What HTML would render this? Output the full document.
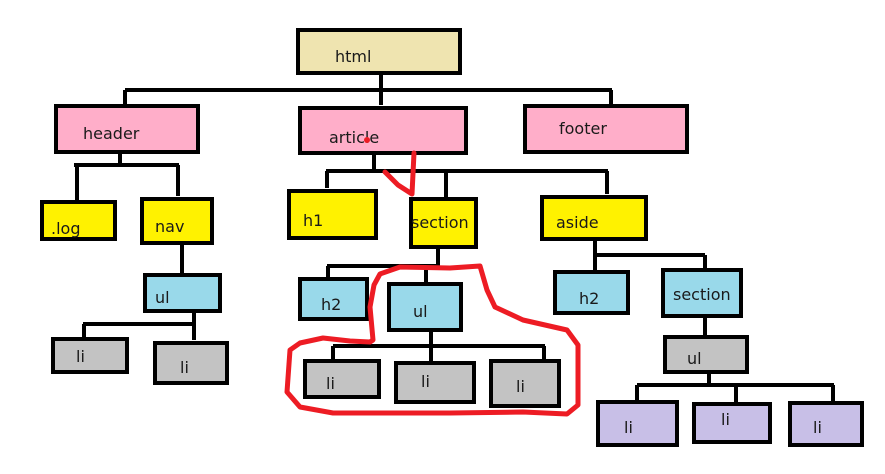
<!DOCTYPE html>
<html><head><meta charset="utf-8"><style>
html,body{margin:0;padding:0;background:#fff;}
svg{display:block;}
text{font-family:"DejaVu Sans","Liberation Sans",sans-serif;font-size:16px;fill:#1a1a1a;}
</style></head><body>
<svg width="885" height="474" viewBox="0 0 885 474" xmlns="http://www.w3.org/2000/svg">
<g stroke="#000" stroke-width="4" fill="none">
<!-- html children -->
<path d="M381 74V105M125 90H612M125 90V105M611 90V104"/>
<!-- header -->
<path d="M120 153V165M74 165H179M77 165V200M178 165V196"/>
<path d="M182 244V274M194 312V340M83 324H194M84 324V337"/>
<!-- article -->
<path d="M374 154V171M326 171H608M327 171V188M446 171V197M607 171V194"/>
<path d="M438 248V266M327 266H438M328 266V277M426 266V282"/>
<path d="M431 331V346M333 346H545M333 346V359M431 346V361M544 346V359"/>
<!-- aside -->
<path d="M595 240V272M595 255H705M705 255V268M705 317V336M709 373V385M637 385H834M637 385V400M736 385V402M833 385V401"/>
</g>
<g stroke="#000" stroke-width="4">
<rect x="298" y="30" width="162" height="43" fill="#efe4b0"/>
<rect x="56" y="106" width="142" height="46" fill="#ffaec9"/>
<rect x="300" y="108" width="166" height="45" fill="#ffaec9"/>
<rect x="525" y="106" width="162" height="46" fill="#ffaec9"/>
<rect x="42" y="202" width="73" height="37" fill="#fff200"/>
<rect x="142" y="199" width="70" height="44" fill="#fff200"/>
<rect x="289" y="191" width="87" height="47" fill="#fff200"/>
<rect x="411" y="199" width="65" height="48" fill="#fff200"/>
<rect x="542" y="197" width="104" height="42" fill="#fff200"/>
<rect x="145" y="275" width="75" height="36" fill="#99d9ea"/>
<rect x="300" y="279" width="67" height="40" fill="#99d9ea"/>
<rect x="389" y="284" width="72" height="46" fill="#99d9ea"/>
<rect x="555" y="272" width="73" height="41" fill="#99d9ea"/>
<rect x="663" y="270" width="78" height="46" fill="#99d9ea"/>
<rect x="53" y="339" width="74" height="33" fill="#c3c3c3"/>
<rect x="155" y="343" width="72" height="40" fill="#c3c3c3"/>
<rect x="305" y="361" width="74" height="36" fill="#c3c3c3"/>
<rect x="396" y="363" width="78" height="39" fill="#c3c3c3"/>
<rect x="491" y="361" width="68" height="45" fill="#c3c3c3"/>
<rect x="665" y="337" width="82" height="35" fill="#c3c3c3"/>
<rect x="598" y="402" width="79" height="43" fill="#c8bfe7"/>
<rect x="694" y="404" width="76" height="38" fill="#c8bfe7"/>
<rect x="790" y="403" width="72" height="42" fill="#c8bfe7"/>
</g>
<g>
<text x="335" y="62">html</text>
<text x="83" y="139">header</text>
<text x="329" y="143">article</text>
<text x="559" y="134">footer</text>
<text x="51" y="234">.log</text>
<text x="155" y="232">nav</text>
<text x="303" y="226">h1</text>
<text x="411" y="228">section</text>
<text x="556" y="228">aside</text>
<text x="155" y="303">ul</text>
<text x="321" y="310">h2</text>
<text x="413" y="317">ul</text>
<text x="579" y="304">h2</text>
<text x="673" y="300">section</text>
<text x="76" y="362">li</text>
<text x="180" y="373">li</text>
<text x="326" y="389">li</text>
<text x="421" y="387">li</text>
<text x="516" y="392">li</text>
<text x="687" y="364">ul</text>
<text x="624" y="433">li</text>
<text x="721" y="425">li</text>
<text x="813" y="433">li</text>
</g>
<g stroke="#ed1c24" stroke-width="5" fill="none" stroke-linecap="round" stroke-linejoin="round">
<path d="M385 172L398 185L412 194L414 153"/>
<path d="M373 340L370 307L374 285L380 274L400 267L450 268L480 266L487 290L495 307L523 320L567 330L578 345L578 405L567 414L523 412L450 413L333 413L300 407L287 392L290 350L300 343L323 338L350 341L370 342Z"/>
</g>
<circle cx="367" cy="140" r="3" fill="#ed1c24"/>
</svg>
</body></html>
